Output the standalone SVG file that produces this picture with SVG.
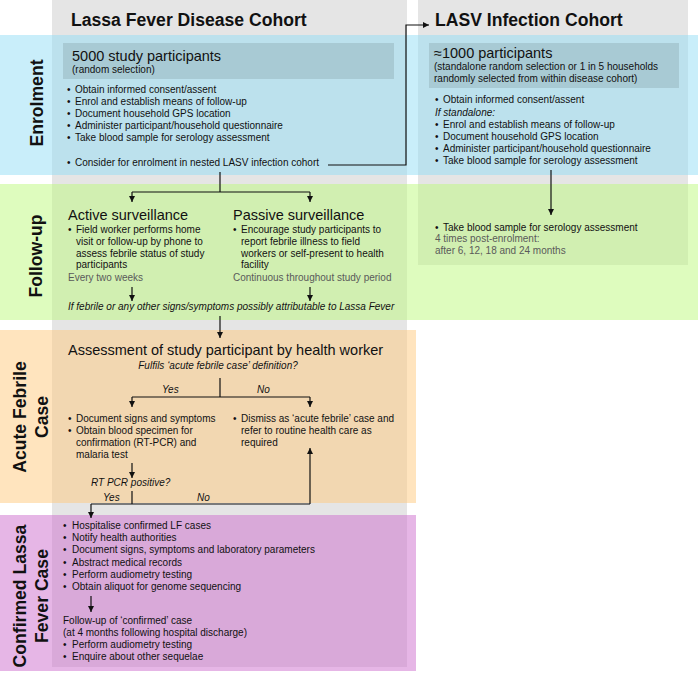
<svg xmlns="http://www.w3.org/2000/svg" width="700" height="675" viewBox="0 0 700 675">
<defs>
<marker id="ah" markerUnits="userSpaceOnUse" markerWidth="7" markerHeight="7" refX="6" refY="3" orient="auto">
<path d="M0,0 L6,3 L0,6 z" fill="#111"/>
</marker>
<style>
text{font-family:"Liberation Sans",Arial,Helvetica,sans-serif;fill:#111}
.hd{font-size:17.6px;font-weight:bold}
.band{font-size:17.6px;font-weight:bold;text-anchor:middle}
.t1{font-size:14.5px}
.s{font-size:10px}
.i{font-size:10px;font-style:italic}
.g{font-size:10px;fill:#5a5a5a}
.col{fill:#e5e5e5}
.sub{fill:#000;fill-opacity:0.1}
.ln{fill:none;stroke:#111;stroke-width:1.2}
.ar{fill:none;stroke:#111;stroke-width:1.2;marker-end:url(#ah)}
</style>
</defs>
<rect width="700" height="675" fill="#fff"/>
<g id="columns">
<rect class="col" x="52" y="0" width="355" height="667"/>
<rect class="col" x="418" y="0" width="270" height="265"/>
</g>
<g id="bands" fill-opacity="0.5">
<rect x="0" y="35" width="698" height="140" fill="rgb(147,221,245)"/>
<rect x="0" y="184" width="698" height="136" fill="rgb(189,249,125)"/>
<rect x="0" y="330" width="416" height="173" fill="rgb(255,201,125)"/>
<rect x="0" y="515" width="416" height="156" fill="rgb(205,109,205)"/>
</g>
<g id="band-labels">
<text class="band" transform="translate(43,103) rotate(-90)">Enrolment</text>
<text class="band" transform="translate(42,256) rotate(-90)">Follow-up</text>
<text class="band" transform="translate(26,417) rotate(-90)">Acute Febrile</text>
<text class="band" transform="translate(48,417) rotate(-90)">Case</text>
<text class="band" transform="translate(26,596) rotate(-90)">Confirmed Lassa</text>
<text class="band" transform="translate(48,596) rotate(-90)">Fever Case</text>
</g>
<g id="headers">
<text class="hd" x="71" y="26">Lassa Fever Disease Cohort</text>
<text class="hd" x="435" y="26">LASV Infection Cohort</text>
</g>
<g id="disease-enrolment">
<rect class="sub" x="63" y="43" width="331" height="36"/>
<text class="t1" x="72" y="61">5000 study participants</text>
<text class="s" x="72" y="73">(random selection)</text>
<text class="s" y="93"><tspan x="67">•</tspan><tspan x="75">Obtain informed consent/assent</tspan></text>
<text class="s" y="105"><tspan x="67">•</tspan><tspan x="75">Enrol and establish means of follow-up</tspan></text>
<text class="s" y="117"><tspan x="67">•</tspan><tspan x="75">Document household GPS location</tspan></text>
<text class="s" y="129"><tspan x="67">•</tspan><tspan x="75">Administer participant/household questionnaire</tspan></text>
<text class="s" y="141"><tspan x="67">•</tspan><tspan x="75">Take blood sample for serology assessment</tspan></text>
<text class="s" y="166"><tspan x="67">•</tspan><tspan x="75">Consider for enrolment in nested LASV infection cohort</tspan></text>
</g>
<g id="infection-enrolment">
<rect class="sub" x="429" y="43" width="250" height="45"/>
<text class="t1" x="434" y="58">≈1000 participants</text>
<text class="s" x="434" y="70">(standalone random selection or 1 in 5 households</text>
<text class="s" x="434" y="82">randomly selected from within disease cohort)</text>
<text class="s" y="103"><tspan x="435">•</tspan><tspan x="443">Obtain informed consent/assent</tspan></text>
<text class="i" x="435" y="116">If standalone:</text>
<text class="s" y="128"><tspan x="435">•</tspan><tspan x="443">Enrol and establish means of follow-up</tspan></text>
<text class="s" y="140"><tspan x="435">•</tspan><tspan x="443">Document household GPS location</tspan></text>
<text class="s" y="152"><tspan x="435">•</tspan><tspan x="443">Administer participant/household questionnaire</tspan></text>
<text class="s" y="164"><tspan x="435">•</tspan><tspan x="443">Take blood sample for serology assessment</tspan></text>
</g>
<g id="active-surveillance">
<text class="t1" x="68" y="220">Active surveillance</text>
<text class="s" y="233"><tspan x="68">•</tspan><tspan x="76">Field worker performs home</tspan></text>
<text class="s" x="76" y="245">visit or follow-up by phone to</text>
<text class="s" x="76" y="256.5">assess febrile status of study</text>
<text class="s" x="76" y="268">participants</text>
<text class="g" x="68" y="281">Every two weeks</text>
</g>
<g id="passive-surveillance">
<text class="t1" x="233" y="220">Passive surveillance</text>
<text class="s" y="233"><tspan x="233">•</tspan><tspan x="241">Encourage study participants to</tspan></text>
<text class="s" x="241" y="245">report febrile illness to field</text>
<text class="s" x="241" y="256.5">workers or self-present to health</text>
<text class="s" x="241" y="268">facility</text>
<text class="g" x="233" y="281">Continuous throughout study period</text>
</g>
<g id="febrile-condition">
<text class="i" x="68" y="310">If febrile or any other signs/symptoms possibly attributable to Lassa Fever</text>
</g>
<g id="infection-followup">
<text class="s" y="231"><tspan x="435">•</tspan><tspan x="443">Take blood sample for serology assessment</tspan></text>
<text class="g" x="435" y="242">4 times post-enrolment:</text>
<text class="g" x="435" y="254">after 6, 12, 18 and 24 months</text>
</g>
<g id="assessment">
<text class="t1" x="68" y="355">Assessment of study participant by health worker</text>
<text class="i" x="218" y="369" text-anchor="middle">Fulfils ‘acute febrile case’ definition?</text>
</g>
<g id="febrile-yes">
<text class="s" y="422"><tspan x="68">•</tspan><tspan x="76">Document signs and symptoms</tspan></text>
<text class="s" y="434"><tspan x="68">•</tspan><tspan x="76">Obtain blood specimen for</tspan></text>
<text class="s" x="76" y="446">confirmation (RT-PCR) and</text>
<text class="s" x="76" y="458">malaria test</text>
</g>
<g id="febrile-no">
<text class="s" y="422"><tspan x="233">•</tspan><tspan x="241">Dismiss as ‘acute febrile’ case and</tspan></text>
<text class="s" x="241" y="434">refer to routine health care as</text>
<text class="s" x="241" y="446">required</text>
</g>
<g id="rtpcr">
<text class="i" x="91" y="486">RT PCR positive?</text>
</g>
<g id="confirmed-case">
<text class="s" y="529"><tspan x="63">•</tspan><tspan x="72">Hospitalise confirmed LF cases</tspan></text>
<text class="s" y="541.2"><tspan x="63">•</tspan><tspan x="72">Notify health authorities</tspan></text>
<text class="s" y="553.4"><tspan x="63">•</tspan><tspan x="72">Document signs, symptoms and laboratory parameters</tspan></text>
<text class="s" y="565.6"><tspan x="63">•</tspan><tspan x="72">Abstract medical records</tspan></text>
<text class="s" y="577.8"><tspan x="63">•</tspan><tspan x="72">Perform audiometry testing</tspan></text>
<text class="s" y="590"><tspan x="63">•</tspan><tspan x="72">Obtain aliquot for genome sequencing</tspan></text>
</g>
<g id="confirmed-followup">
<text class="s" x="63" y="624">Follow-up of ‘confirmed’ case</text>
<text class="s" x="63" y="636">(at 4 months following hospital discharge)</text>
<text class="s" y="648"><tspan x="63">•</tspan><tspan x="72">Perform audiometry testing</tspan></text>
<text class="s" y="660"><tspan x="63">•</tspan><tspan x="72">Enquire about other sequelae</tspan></text>
</g>
<g id="connectors">
<path class="ar" d="M328,165 H406 V25 H429"/>
<path class="ln" d="M220,172 V192 M132,192 H310"/>
<path class="ar" d="M132,192 V202"/>
<path class="ar" d="M310,192 V202"/>
<path class="ar" d="M551,170 V215"/>
<path class="ar" d="M132,287 V301"/>
<path class="ar" d="M310,287 V301"/>
<path class="ar" d="M220,316 V338"/>
<path class="ln" d="M220,378 V397 M132,397 H310"/>
<path class="ar" d="M132,397 V407"/>
<path class="ar" d="M310,397 V407"/>
<text class="i" x="162" y="393">Yes</text>
<text class="i" x="257" y="393">No</text>
<path class="ar" d="M132,463 V478"/>
<path class="ln" d="M132,491 V504 M91,504 H310"/>
<path class="ar" d="M91,504 V518"/>
<path class="ar" d="M310,504 V448"/>
<text class="i" x="103" y="501">Yes</text>
<text class="i" x="197" y="501">No</text>
<path class="ar" d="M91,596 V612"/>
</g>
</svg>
